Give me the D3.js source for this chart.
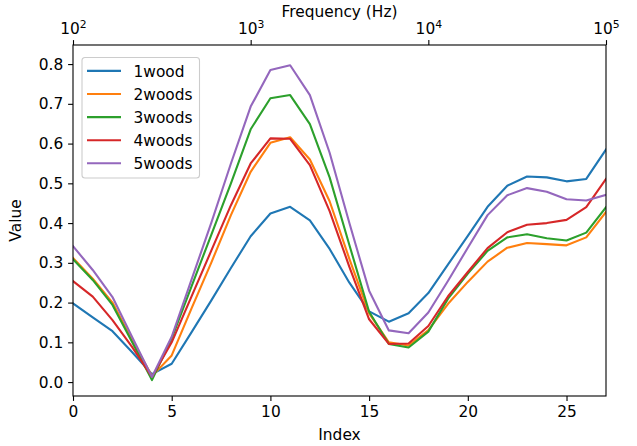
<!DOCTYPE html>
<html>
<head>
<meta charset="utf-8">
<script src="https://cdn.jsdelivr.net/npm/d3@7"></script>
<style>
  body { margin: 0; background: #fff; }
  svg text { font-family: "DejaVu Sans", sans-serif; fill: #000; }
</style>
</head>
<body>
<div id="chart"></div>
<script>
// series values, index 0..27
const seriesNames = ["1wood", "2woods", "3woods", "4woods", "5woods"]
const colors = ["#1f77b4", "#ff7f0e", "#2ca02c", "#d62728", "#9467bd"]
const wood1 = [0.198, 0.163, 0.128, 0.075, 0.020, 0.046, 0.125, 0.205, 0.287, 0.367, 0.424, 0.441, 0.407, 0.335, 0.250, 0.178, 0.152, 0.173, 0.224, 0.296, 0.368, 0.441, 0.494, 0.517, 0.515, 0.505, 0.511, 0.585]
const wood2 = [0.312, 0.260, 0.200, 0.105, 0.015, 0.067, 0.185, 0.300, 0.420, 0.529, 0.602, 0.616, 0.560, 0.455, 0.310, 0.173, 0.100, 0.092, 0.131, 0.197, 0.252, 0.303, 0.338, 0.350, 0.347, 0.344, 0.364, 0.428]
const wood3 = [0.309, 0.257, 0.194, 0.100, 0.005, 0.110, 0.240, 0.370, 0.500, 0.636, 0.714, 0.722, 0.649, 0.515, 0.345, 0.177, 0.096, 0.087, 0.127, 0.210, 0.273, 0.330, 0.364, 0.372, 0.362, 0.356, 0.376, 0.440]
const wood4 = [0.254, 0.215, 0.156, 0.088, 0.013, 0.100, 0.215, 0.330, 0.445, 0.550, 0.613, 0.612, 0.546, 0.430, 0.290, 0.158, 0.096, 0.097, 0.141, 0.216, 0.277, 0.337, 0.377, 0.396, 0.400, 0.408, 0.440, 0.511]
const wood5 = [0.342, 0.282, 0.214, 0.113, 0.013, 0.114, 0.257, 0.400, 0.550, 0.693, 0.785, 0.797, 0.722, 0.577, 0.400, 0.230, 0.130, 0.123, 0.175, 0.255, 0.338, 0.420, 0.470, 0.488, 0.479, 0.460, 0.457, 0.471]
const xTicks = [0, 5, 10, 15, 20, 25]
const yTicks = [0.0, 0.1, 0.2, 0.3, 0.4, 0.5, 0.6, 0.7, 0.8]
const freqTicks = [2, 3, 4, 5]   // exponents of 10

const allSeries = [wood1, wood2, wood3, wood4, wood5]
const fs = "15.4px"

var margin = {top: 45, right: 31, bottom: 50, left: 73},
    width = 637 - margin.left - margin.right,
    height = 446 - margin.top - margin.bottom;

var svg = d3.select("#chart")
    .append("svg")
    .attr("width", 637)
    .attr("height", 446)
    .append("g")
    .attr("transform", "translate(" + margin.left + "," + margin.top + ")");

var x = d3.scaleLinear().domain([0, 27]).range([0, width])
var y = d3.scaleLinear().domain([-0.035, 0.848]).range([height, 0])
var xf = d3.scaleLog().domain([100, 100000]).range([0, width])

function styleAxis(g) {
    g.attr("font-size", null).attr("font-family", null)
    g.selectAll(".domain").remove()
    g.selectAll(".tick line").attr("stroke", "#000").attr("stroke-width", 1.1)
    g.selectAll(".tick text").style("font-size", fs)
}

// bottom axis
svg.append("g")
    .attr("transform", "translate(0," + height + ")")
    .call(d3.axisBottom(x).tickValues(xTicks).tickSize(4.9).tickPadding(4.9).tickFormat(d3.format("d")))
    .call(styleAxis)

// left axis
svg.append("g")
    .call(d3.axisLeft(y).tickValues(yTicks).tickSize(4.9).tickPadding(4.9).tickFormat(d3.format(".1f")))
    .call(styleAxis)

// top axis, log frequency
var topAxis = svg.append("g")
    .call(d3.axisTop(xf).tickValues(freqTicks.map(e => Math.pow(10, e))).tickSize(4.9).tickPadding(4.9).tickFormat(""))
    .call(styleAxis)
topAxis.selectAll(".tick").each(function(d) {
    var t = d3.select(this).append("text")
        .attr("y", -11)
        .attr("text-anchor", "middle")
        .style("font-size", fs)
    t.append("tspan").text("10")
    t.append("tspan").attr("dy", "-6").style("font-size", "10.8px").text(Math.round(Math.log10(d)))
})

// lines
var line = d3.line()
    .x((d, i) => x(i))
    .y(d => y(d))

svg.append("defs").append("clipPath").attr("id", "clip")
    .append("rect").attr("width", width).attr("height", height)

svg.selectAll("path.series")
    .data(allSeries)
    .enter()
    .append("path")
    .attr("class", "series")
    .attr("clip-path", "url(#clip)")
    .attr("d", line)
    .attr("fill", "none")
    .attr("stroke", (d, i) => colors[i])
    .attr("stroke-width", 2.1)
    .attr("stroke-linejoin", "round")
    .attr("stroke-linecap", "square")

// frame
svg.append("rect")
    .attr("width", width)
    .attr("height", height)
    .attr("fill", "none")
    .attr("stroke", "#000")
    .attr("stroke-width", 1.1)

// labels
svg.append("text")
    .attr("x", width / 2)
    .attr("y", height + 44)
    .attr("text-anchor", "middle")
    .style("font-size", fs)
    .text("Index")

svg.append("text")
    .attr("transform", "translate(" + (-52) + "," + (height / 2) + ") rotate(-90)")
    .attr("text-anchor", "middle")
    .style("font-size", fs)
    .text("Value")

svg.append("text")
    .attr("x", width / 2)
    .attr("y", -28)
    .attr("text-anchor", "middle")
    .style("font-size", fs)
    .text("Frequency (Hz)")

// legend
var legend = svg.append("g").attr("transform", "translate(9,12.5)")
legend.append("rect")
    .attr("width", 117.5)
    .attr("height", 120.5)
    .attr("rx", 3)
    .attr("fill", "#fff")
    .attr("fill-opacity", 0.8)
    .attr("stroke", "#ccc")
    .attr("stroke-width", 1.1)

var item = legend.selectAll("g.item")
    .data(seriesNames)
    .enter()
    .append("g")
    .attr("transform", (d, i) => "translate(0," + (13.4 + i * 23.1) + ")")
item.append("line")
    .attr("x1", 5).attr("x2", 39)
    .attr("stroke", (d, i) => colors[i])
    .attr("stroke-width", 2.1)
item.append("text")
    .attr("x", 51.5)
    .attr("y", 5.6)
    .style("font-size", fs)
    .text(d => d)
</script>
</body>
</html>
